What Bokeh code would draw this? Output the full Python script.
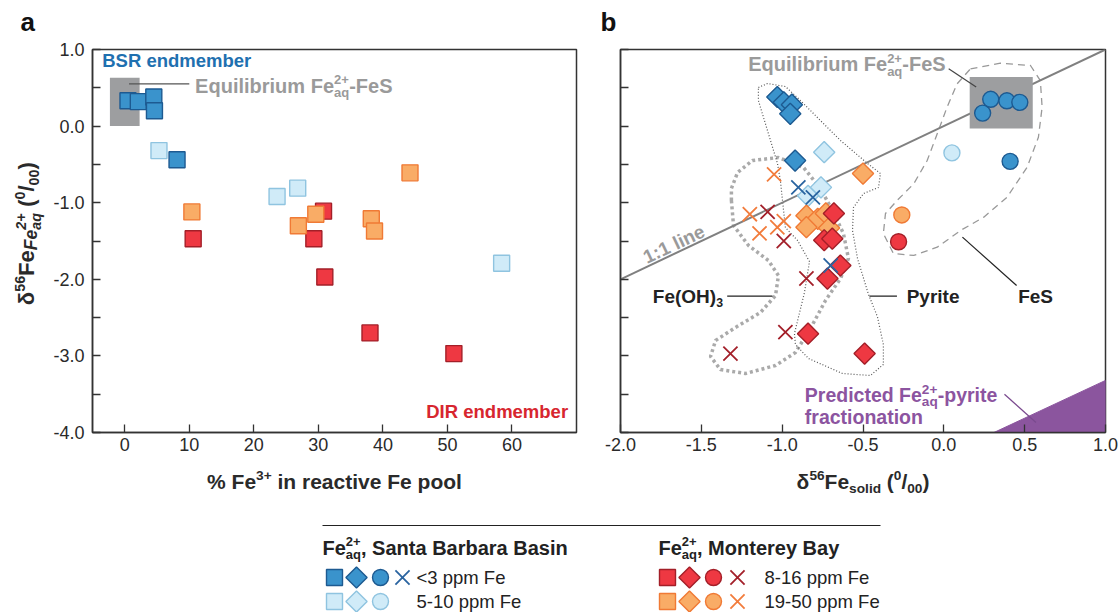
import math
from bokeh.plotting import figure
from bokeh.layouts import column, row
from bokeh.models import Label, FixedTicker, PrintfTickFormatter, Range1d
from bokeh.embed import file_html
from bokeh.resources import INLINE

FONT = "Liberation Sans"

# ---------------- data: panel a ----------------
a_xticks = [0, 10, 20, 30, 40, 50, 60]
a_sbb_hi_x = [0.5, 2.1, 4.5, 4.6, 8.1]          # SBB <3 ppm
a_sbb_hi_y = [0.33, 0.32, 0.38, 0.20, -0.44]
a_sbb_lo_x = [5.3, 23.6, 26.8, 58.4]            # SBB 5-10 ppm
a_sbb_lo_y = [-0.32, -0.92, -0.81, -1.79]
a_mb_lo_x = [10.6, 29.3, 30.8, 31.0, 38.0, 51.0]  # MB 8-16 ppm
a_mb_lo_y = [-1.47, -1.47, -1.11, -1.97, -2.70, -2.97]
a_mb_hi_x = [10.4, 26.9, 29.6, 38.2, 38.7, 44.2]  # MB 19-50 ppm
a_mb_hi_y = [-1.12, -1.30, -1.15, -1.21, -1.37, -0.61]
a_eq_box = [-2.3, 2.3, 0.0, 0.63]                 # left, right, bottom, top

# ---------------- data: panel b ----------------
b_xticks = [-2.0, -1.5, -1.0, -0.5, 0.0, 0.5, 1.0]
y_major = [-4, -3, -2, -1, 0, 1]
y_minor = [-3.5, -2.5, -1.5, -0.5, 0.5]
b_sbb_hi_dia_x = [-1.03, -0.99, -0.94, -0.95, -0.92]
b_sbb_hi_dia_y = [0.38, 0.31, 0.28, 0.16, -0.45]
b_sbb_lo_dia_x = [-0.74, -0.76, -0.84]
b_sbb_lo_dia_y = [-0.34, -0.80, -0.91]
b_sbb_hi_cir_x = [0.24, 0.29, 0.39, 0.47, 0.41]
b_sbb_hi_cir_y = [0.17, 0.35, 0.33, 0.31, -0.46]
b_sbb_lo_cir_x = [0.05]
b_sbb_lo_cir_y = [-0.35]
b_sbb_hi_x_x = [-0.90, -0.81, -0.70]
b_sbb_hi_x_y = [-0.80, -0.93, -1.82]
b_mb_lo_dia_x = [-0.68, -0.74, -0.69, -0.64, -0.72, -0.84, -0.49]
b_mb_lo_dia_y = [-1.14, -1.49, -1.47, -1.82, -1.99, -2.71, -2.97]
b_mb_hi_dia_x = [-0.50, -0.85, -0.78, -0.73, -0.85, -0.71]
b_mb_hi_dia_y = [-0.62, -1.17, -1.21, -1.14, -1.32, -1.33]
b_mb_lo_cir_x = [-0.28]
b_mb_lo_cir_y = [-1.51]
b_mb_hi_cir_x = [-0.26]
b_mb_hi_cir_y = [-1.16]
b_mb_lo_x_x = [-1.09, -0.99, -0.85, -0.98, -1.32]
b_mb_lo_x_y = [-1.12, -1.50, -1.99, -2.69, -2.97]
b_mb_hi_x_x = [-1.05, -1.20, -1.14, -0.99, -1.03]
b_mb_hi_x_y = [-0.63, -1.15, -1.40, -1.24, -1.32]
b_eq_box = [0.16, 0.55, -0.03, 0.64]
one_to_one = [-2.0, 1.0]
pyrite_x = [-1.147, -1.091, -0.980, -0.887, -0.745, -0.639, -0.472, -0.392, -0.404, -0.497, -0.559, -0.565,
            -0.534, -0.466, -0.411, -0.374, -0.374, -0.454, -0.627, -0.837, -0.918, -0.924, -0.862, -0.831,
            -0.905, -0.980, -1.011, -1.029, -1.091, -1.147, -1.147]
pyrite_y = [0.504, 0.556, 0.517, 0.334, 0.034, -0.188, -0.488, -0.619, -0.802, -0.880, -1.063, -1.363,
            -1.728, -2.198, -2.486, -2.851, -3.112, -3.256, -3.230, -3.034, -2.851, -2.708, -2.172, -1.768,
            -1.493, -1.324, -0.710, -0.488, -0.057, 0.334, 0.504]
feoh_x = [-1.314, -1.301, -1.208, -1.085, -1.023, -1.041, -1.134, -1.289, -1.412, -1.443, -1.382, -1.227,
          -1.041, -0.918, -0.825, -0.732, -0.639, -0.590, -0.621, -0.689, -0.763, -0.868, -1.023, -1.184,
          -1.276, -1.314, -1.314]
feoh_y = [-0.971, -1.298, -1.559, -1.755, -1.950, -2.211, -2.433, -2.629, -2.799, -3.008, -3.178, -3.230,
          -3.125, -2.956, -2.642, -2.277, -1.990, -1.728, -1.402, -1.102, -0.815, -0.540, -0.410, -0.449,
          -0.606, -0.815, -0.971]
fes_x = [0.165, 0.350, 0.536, 0.597, 0.608, 0.585, 0.515, 0.391, 0.247, 0.103, -0.041, -0.186, -0.312,
         -0.374, -0.361, -0.289, -0.186, -0.103, -0.041, 0.020, 0.082, 0.165]
fes_y = [0.748, 0.821, 0.791, 0.595, 0.247, -0.145, -0.537, -0.928, -1.189, -1.363, -1.581, -1.689, -1.663,
         -1.402, -1.141, -0.971, -0.753, -0.449, -0.101, 0.247, 0.552, 0.748]
pyrite_pred_x = [0.31, 1.0, 1.0]
pyrite_pred_y = [-4.0, -4.0, -3.32]

# colours
DB_F, DB_L = "#3a93cc", "#1d5a91"
LB_F, LB_L = "#d0ebf8", "#8fc4e0"
RD_F, RD_L = "#ee3842", "#a31f28"
OR_F, OR_L = "#f9ac66", "#f07a35"
DB_X, RD_X, OR_X = "#2a64a0", "#a3202a", "#f27c3c"
AX = "#333333"
TXT = "#222222"

# Helvetica-compatible advance widths (per 1000 em)
REG_W = {' ': 278, '%': 889, '(': 333, ')': 333, '+': 584, ',': 278, '-': 333, '.': 278, '/': 278, ':': 278,
         '<': 584, 'F': 611, 'δ': 556, 'a': 556, 'e': 556, 'i': 222, 'l': 222, 'm': 833, 'n': 556, 'o': 556,
         'p': 556, 'q': 556, 'r': 333, 's': 500, 't': 278, 'y': 500}
BOLD_W = {' ': 278, '%': 889, '(': 333, ')': 333, '+': 584, ',': 278, '-': 333, '.': 278, '/': 278, ':': 333,
          '<': 584, 'A': 722, 'B': 722, 'C': 722, 'D': 722, 'E': 667, 'F': 611, 'H': 722, 'I': 278, 'M': 833,
          'O': 778, 'P': 667, 'R': 722, 'S': 667, 'a': 556, 'b': 611, 'c': 556, 'd': 611, 'e': 556, 'f': 333,
          'g': 611, 'h': 611, 'i': 278, 'l': 278, 'm': 889, 'n': 611, 'o': 611, 'p': 611, 'q': 611, 'r': 389,
          's': 556, 't': 333, 'u': 611, 'v': 556, 'y': 556, 'δ': 611}


def tw(s, bold, size):
    tbl = BOLD_W if bold else REG_W
    return sum(tbl.get(c, 556) for c in s) * size / 1000.0


def N(t, it=False):
    return [(t, 1.0, 0.0, it)]


def SUP(t, s=0.65):
    return [(t, s, 0.40, False)]


def SUB(t, s=0.65):
    return [(t, s, -0.22, False)]


def ST(a, b, s=0.65):
    return [(a, s, 0.40, False), (b, s, -0.24, False)]


def rich(p, x, y, groups, size, color, bold=True, angle=0.0, align="left"):
    """(x, y) = middle of the main text line; pieces placed with screen offsets."""
    ca, sa = math.cos(angle), math.sin(angle)
    widths = [max(tw(t, bold, size * s) for (t, s, dy, it) in g) for g in groups]
    total = sum(widths)
    pen = {"left": 0.0, "center": -total / 2.0, "right": -total}[align]
    for g, w in zip(groups, widths):
        for (t, s, dy, it) in g:
            body = t.lstrip(" ")
            lead = tw(t[:len(t) - len(body)], bold, size * s)
            nrm = dy * size - 0.35 * size * (1.0 - s)
            along = pen + lead
            ox = along * ca - nrm * sa
            oy = along * sa + nrm * ca
            st = ("bold" if bold else "") + (" italic" if it else "")
            st = st.strip() or "normal"
            p.add_layout(Label(x=x, y=y, x_offset=ox, y_offset=oy, text=body, angle=angle,
                               text_font=FONT, text_font_size=f"{size * s:.1f}px", text_font_style=st,
                               text_color=color, text_baseline="middle", text_align="left"))
        pen += w


def plain(p, x, y, t, size, color, bold=True, align="left", angle=0.0):
    p.add_layout(Label(x=x, y=y, text=t, text_font=FONT, text_font_size=f"{size}px",
                       text_font_style="bold" if bold else "normal", text_color=color,
                       text_align=align, text_baseline="middle", angle=angle))


def make_fig(w, h, xr, yr, bl, br, bt, bb):
    p = figure(width=w, height=h, x_range=Range1d(*xr), y_range=Range1d(*yr),
               output_backend="svg", toolbar_location=None,
               min_border_left=bl, min_border_right=br, min_border_top=bt, min_border_bottom=bb)
    p.grid.visible = False
    p.background_fill_color = "white"
    p.border_fill_color = "white"
    p.outline_line_color = AX
    p.outline_line_width = 1.5
    return p


def strip(w, h):
    p = figure(width=w, height=h, x_range=Range1d(0, w), y_range=Range1d(h, 0),
               output_backend="svg", toolbar_location=None, x_axis_location=None, y_axis_location=None,
               min_border_left=0, min_border_right=0, min_border_top=0, min_border_bottom=0)
    p.grid.visible = False
    p.outline_line_color = None
    p.background_fill_color = "white"
    p.border_fill_color = "white"
    return p


def style_axes(p, xticks, xfmt, ylabels):
    p.xaxis.ticker = FixedTicker(ticks=xticks)
    p.yaxis.ticker = FixedTicker(ticks=y_major, minor_ticks=y_minor)
    p.yaxis.formatter = PrintfTickFormatter(format="%.1f")
    if xfmt:
        p.xaxis.formatter = PrintfTickFormatter(format=xfmt)
    for ax in p.axis:
        ax.major_tick_in = 8
        ax.major_tick_out = 0
        ax.minor_tick_in = 8
        ax.minor_tick_out = 0
        ax.axis_line_color = AX
        ax.axis_line_width = 1.5
        ax.major_tick_line_color = AX
        ax.minor_tick_line_color = AX
        ax.major_tick_line_width = 1.3
        ax.minor_tick_line_width = 1.3
        ax.major_label_text_font = FONT
        ax.major_label_text_font_size = "18px"
        ax.major_label_text_color = "#2a2a2a"
    p.xaxis.major_label_standoff = 5
    p.yaxis.major_label_standoff = 8
    if not ylabels:
        p.yaxis.major_label_overrides = {v: "" for v in y_major}


def sq(p, x, y, f, l, size=16, angle=0.0):
    p.scatter(x=x, y=y, marker="square", size=size, angle=angle, fill_color=f, line_color=l, line_width=1.4)


H = 422
LW = 50
DIA = math.pi / 4
# ---------------- panel a ----------------
pa = make_fig(600 - LW, H, (-5, 70), (-4, 1), 91 - LW, 24, 11, 28)
style_axes(pa, a_xticks, None, True)
pa.quad(left=[a_eq_box[0]], right=[a_eq_box[1]], bottom=[a_eq_box[2]], top=[a_eq_box[3]],
        fill_color="#9d9ea0", line_color=None)
pa.line(x=[0.66, 10.0], y=[0.55, 0.55], line_color="#555555", line_width=1.2)
sq(pa, a_sbb_hi_x, a_sbb_hi_y, DB_F, DB_L)
sq(pa, a_sbb_lo_x, a_sbb_lo_y, LB_F, LB_L)
sq(pa, a_mb_lo_x, a_mb_lo_y, RD_F, RD_L)
sq(pa, a_mb_hi_x, a_mb_hi_y, OR_F, OR_L)
plain(pa, -3.5, 0.85, "BSR endmember", 18.5, "#1f70b0")
plain(pa, 68.7, -3.73, "DIR endmember", 18.5, "#d7262f", align="right")
rich(pa, 10.9, 0.53, [N("Equilibrium Fe"), ST("2+", "aq"), N("-FeS")], 20, "#9a9a9a")

# ---------------- panel b ----------------
pb = make_fig(520, H, (-2.0, 1.0), (-4, 1), 20, 15, 11, 28)
style_axes(pb, b_xticks, "%.1f", False)
pb.line(x=feoh_x, y=feoh_y, line_color="#aaaaaa", line_width=3.5, line_dash="3 3")
pb.line(x=pyrite_x, y=pyrite_y, line_color="#555555", line_width=1.2, line_dash="1 2")
pb.line(x=fes_x, y=fes_y, line_color="#999999", line_width=1.3, line_dash="7 5")
pb.line(x=one_to_one, y=one_to_one, line_color="#808080", line_width=2)
pb.quad(left=[b_eq_box[0]], right=[b_eq_box[1]], bottom=[b_eq_box[2]], top=[b_eq_box[3]],
        fill_color="#9d9ea0", line_color=None)
pb.patch(x=pyrite_pred_x, y=pyrite_pred_y, fill_color="#8b559e", line_color="#8b559e")
# leader lines
pb.segment(x0=[-1.34, -0.46, 0.115, 0.03, 0.375], y0=[-2.22, -2.22, -1.45, 0.75, -3.50],
           x1=[-1.06, -0.29, 0.45, 0.20, 0.57], y1=[-2.22, -2.22, -2.08, 0.51, -3.87],
           line_color=["#222222", "#222222", "#222222", "#444444", "#7a4a8e"], line_width=1.2)
sq(pb, b_sbb_hi_dia_x, b_sbb_hi_dia_y, DB_F, DB_L, 15, DIA)
sq(pb, b_sbb_lo_dia_x, b_sbb_lo_dia_y, LB_F, LB_L, 15, DIA)
pb.scatter(x=b_sbb_hi_cir_x, y=b_sbb_hi_cir_y, marker="circle", size=16, fill_color=DB_F, line_color=DB_L, line_width=1.4)
pb.scatter(x=b_sbb_lo_cir_x, y=b_sbb_lo_cir_y, marker="circle", size=16, fill_color=LB_F, line_color=LB_L, line_width=1.4)
sq(pb, b_mb_hi_dia_x, b_mb_hi_dia_y, OR_F, OR_L, 15, DIA)
sq(pb, b_mb_lo_dia_x, b_mb_lo_dia_y, RD_F, RD_L, 15, DIA)
pb.scatter(x=b_mb_lo_cir_x, y=b_mb_lo_cir_y, marker="circle", size=16, fill_color=RD_F, line_color=RD_L, line_width=1.4)
pb.scatter(x=b_mb_hi_cir_x, y=b_mb_hi_cir_y, marker="circle", size=16, fill_color=OR_F, line_color=OR_L, line_width=1.4)
pb.scatter(x=b_mb_hi_x_x, y=b_mb_hi_x_y, marker="x", size=20, line_color=OR_X, line_width=1.8)
pb.scatter(x=b_mb_lo_x_x, y=b_mb_lo_x_y, marker="x", size=20, line_color=RD_X, line_width=1.8)
pb.scatter(x=b_sbb_hi_x_x, y=b_sbb_hi_x_y, marker="x", size=20, line_color=DB_X, line_width=1.8)

rich(pb, -1.21, 0.81, [N("Equilibrium Fe"), ST("2+", "aq"), N("-FeS")], 20, "#9a9a9a")
plain(pb, -1.67, -1.54, "1:1 line", 19, "#9a9a9a", align="center", angle=math.atan2(76.6, 161.7))
rich(pb, -1.80, -2.22, [N("Fe(OH)"), SUB("3")], 19, TXT)
plain(pb, -0.23, -2.22, "Pyrite", 19, TXT)
plain(pb, 0.46, -2.22, "FeS", 19, TXT)
rich(pb, -0.86, -3.51, [N("Predicted Fe"), ST("2+", "aq", 0.7), N("-pyrite")], 19.5, "#8c54a0")
plain(pb, -0.86, -3.80, "fractionation", 19.5, "#8c54a0")

# ---------------- strips for outer texts ----------------
top = strip(1120, 38)
plain(top, 20, 21, "a", 26, "#111111")
plain(top, 600, 21, "b", 26, "#111111")

left = strip(LW, H)
rich(left, 26, 203,
     [N("δ"), SUP("56"), N("Fe"), [("Fe", 0.8, -0.15, True)],
      [("2+", 0.65, 0.38, True), ("aq", 0.65, -0.30, True)],
      N(" ("), SUP("0"), N("/"), SUB("00"), N(")")],
     22, "#2a2a2a", angle=math.pi / 2, align="center")

bot = strip(1120, 152)
rich(bot, 334, 21, [N("% Fe"), SUP("3+"), N(" in reactive Fe pool")], 21, "#2a2a2a", align="center")
rich(bot, 862.5, 21, [N("δ"), SUP("56"), N("Fe"), SUB("solid"), N(" ("), SUP("0"), N("/"), SUB("00"), N(")")],
     21, "#2a2a2a", align="center")
bot.line(x=[322, 880], y=[65, 65], line_color="#222222", line_width=1.2)
rich(bot, 322, 87, [N("Fe"), ST("2+", "aq"), N(", Santa Barbara Basin")], 20, TXT)
rich(bot, 658, 87, [N("Fe"), ST("2+", "aq"), N(", Monterey Bay")], 20, TXT)
R1, R2 = 117, 141
sq(bot, [334], [R1], DB_F, DB_L)
sq(bot, [356], [R1], DB_F, DB_L, 15, DIA)
bot.scatter(x=[380], y=[R1], marker="circle", size=16, fill_color=DB_F, line_color=DB_L, line_width=1.4)
bot.scatter(x=[402], y=[R1], marker="x", size=20, line_color=DB_X, line_width=1.8)
sq(bot, [334], [R2], LB_F, LB_L)
sq(bot, [356], [R2], LB_F, LB_L, 15, DIA)
bot.scatter(x=[380], y=[R2], marker="circle", size=16, fill_color=LB_F, line_color=LB_L, line_width=1.4)
sq(bot, [667], [R1], RD_F, RD_L)
sq(bot, [689], [R1], RD_F, RD_L, 15, DIA)
bot.scatter(x=[713], y=[R1], marker="circle", size=16, fill_color=RD_F, line_color=RD_L, line_width=1.4)
bot.scatter(x=[737], y=[R1], marker="x", size=20, line_color=RD_X, line_width=1.8)
sq(bot, [667], [R2], OR_F, OR_L)
sq(bot, [689], [R2], OR_F, OR_L, 15, DIA)
bot.scatter(x=[713], y=[R2], marker="circle", size=16, fill_color=OR_F, line_color=OR_L, line_width=1.4)
bot.scatter(x=[737], y=[R2], marker="x", size=20, line_color=OR_X, line_width=1.8)
plain(bot, 416, R1, "<3 ppm Fe", 18.5, TXT, bold=False)
plain(bot, 416, R2, "5-10 ppm Fe", 18.5, TXT, bold=False)
plain(bot, 764, R1, "8-16 ppm Fe", 18.5, TXT, bold=False)
plain(bot, 764, R2, "19-50 ppm Fe", 18.5, TXT, bold=False)

layout = column(top, row(left, pa, pb), bot)
open("out.html", "w").write(file_html(layout, INLINE))
